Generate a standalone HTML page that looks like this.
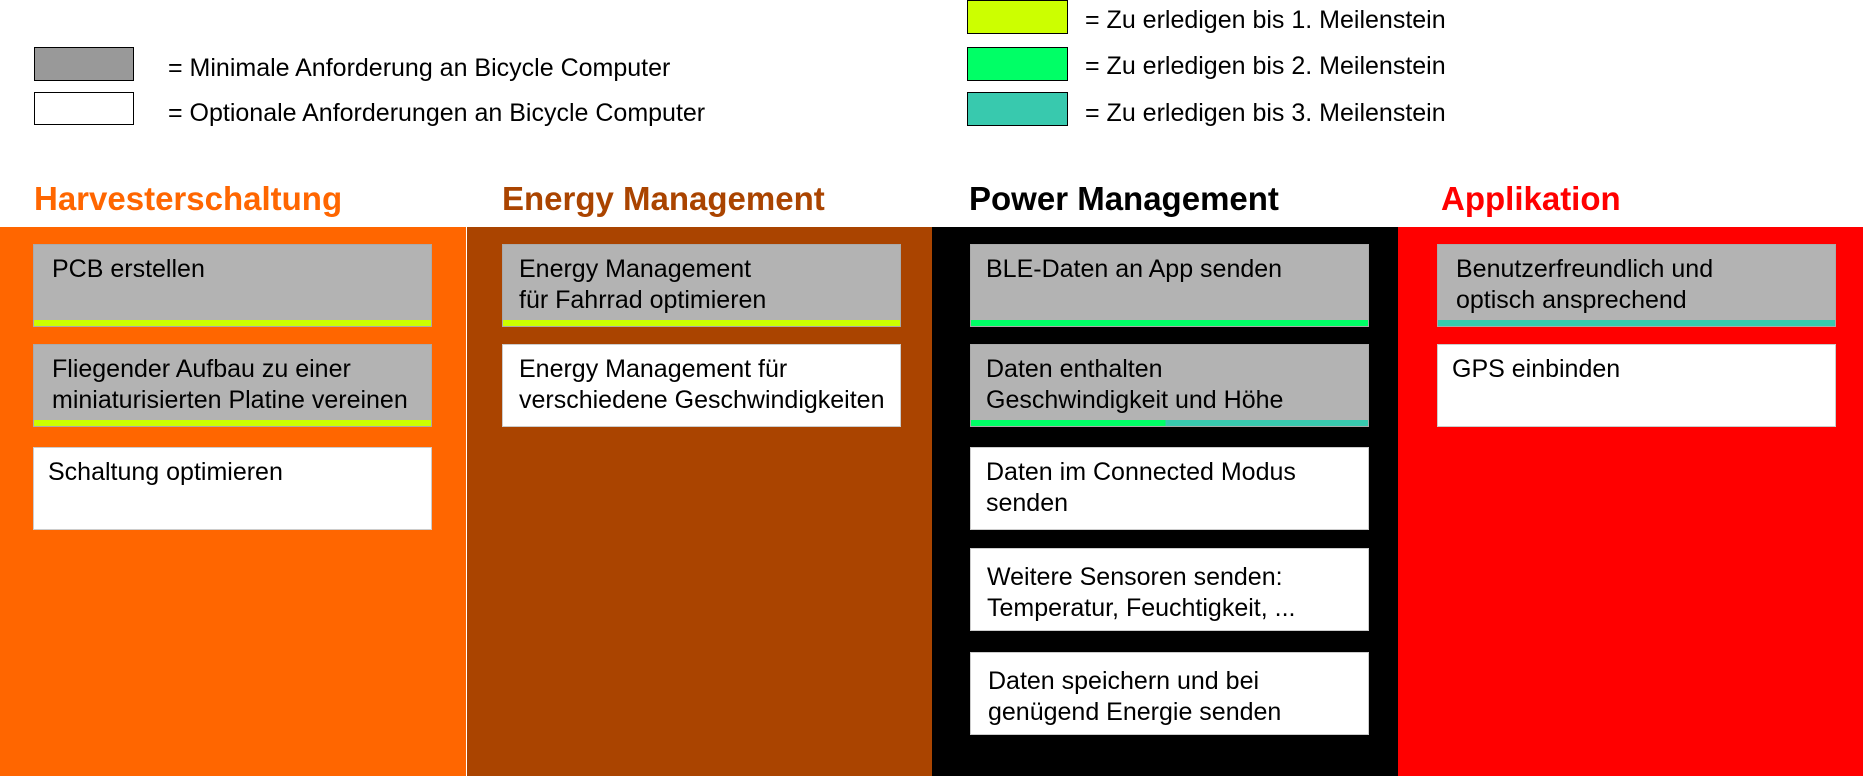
<!DOCTYPE html>
<html><head><meta charset="utf-8"><style>
*{margin:0;padding:0;box-sizing:border-box}
body{width:1863px;height:776px;background:#fff;position:relative;overflow:hidden;font-family:"Liberation Sans",sans-serif}
.a{position:absolute}
.lg{position:absolute;border:1.5px solid #000}
.lt{position:absolute;font-size:25px;color:#000;line-height:28px;white-space:nowrap}
.h{position:absolute;top:180px;font-size:33px;font-weight:bold;white-space:nowrap}
.col{position:absolute;top:227px;height:549px;width:466px}
.b{position:absolute;height:83px;width:399px;font-size:25px;line-height:31px;padding:9px 0 0 18px;color:#000;border:1px solid #ccc;white-space:nowrap}
.g{background:#b3b3b3;border-color:#aaa}
.w{background:#fff}
.bar{position:absolute;left:0;bottom:0;height:6px;width:100%}
</style></head><body>
<div class="lg" style="left:34px;top:47px;width:100px;height:34px;background:#999"></div>
<div class="lg" style="left:34px;top:92px;width:100px;height:33px;background:#fff"></div>
<div class="lt" style="left:168px;top:54px">= Minimale Anforderung an Bicycle Computer</div>
<div class="lt" style="left:168px;top:99px">= Optionale Anforderungen an Bicycle Computer</div>
<div class="lg" style="left:967px;top:0px;width:101px;height:34px;background:#ccff00"></div>
<div class="lg" style="left:967px;top:47px;width:101px;height:34px;background:#00ff66"></div>
<div class="lg" style="left:967px;top:92px;width:101px;height:34px;background:#38c9ae"></div>
<div class="lt" style="left:1085px;top:6px">= Zu erledigen bis 1. Meilenstein</div>
<div class="lt" style="left:1085px;top:52px">= Zu erledigen bis 2. Meilenstein</div>
<div class="lt" style="left:1085px;top:99px">= Zu erledigen bis 3. Meilenstein</div>

<div class="h" style="left:34px;color:#ff6600">Harvesterschaltung</div>
<div class="h" style="left:502px;color:#aa4400">Energy Management</div>
<div class="h" style="left:969px;color:#000">Power Management</div>
<div class="h" style="left:1441px;color:#ff0000">Applikation</div>

<div class="col" style="left:0;background:#ff6600"></div>
<div class="col" style="left:467px;background:#aa4400"></div>
<div class="col" style="left:932px;width:466px;background:#000"></div>
<div class="col" style="left:1398px;width:465px;background:#ff0000"></div>

<div class="b g" style="left:33px;top:244px">PCB erstellen<div class="bar" style="background:#ccff00"></div></div>
<div class="b g" style="left:33px;top:344px">Fliegender Aufbau zu einer<br>miniaturisierten Platine vereinen<div class="bar" style="background:#ccff00"></div></div>
<div class="b w" style="left:33px;top:447px;padding-left:14px">Schaltung optimieren</div>

<div class="b g" style="left:502px;top:244px;padding-left:16px">Energy Management<br>für Fahrrad optimieren<div class="bar" style="background:#ccff00"></div></div>
<div class="b w" style="left:502px;top:344px;padding-left:16px">Energy Management für<br>verschiedene Geschwindigkeiten</div>

<div class="b g" style="left:970px;top:244px;padding-left:15px">BLE-Daten an App senden<div class="bar" style="background:#00ff66"></div></div>
<div class="b g" style="left:970px;top:344px;padding-left:15px">Daten enthalten<br>Geschwindigkeit und Höhe<div class="bar" style="background:linear-gradient(90deg,#00ff66 0,#00ff66 49%,#38c9ae 49%)"></div></div>
<div class="b w" style="left:970px;top:447px;padding-left:15px">Daten im Connected Modus<br>senden</div>
<div class="b w" style="left:970px;top:548px;padding-left:16px;padding-top:13px">Weitere Sensoren senden:<br>Temperatur, Feuchtigkeit, ...</div>
<div class="b w" style="left:970px;top:652px;padding-left:17px;padding-top:13px">Daten speichern und bei<br>genügend Energie senden</div>

<div class="b g" style="left:1437px;top:244px;padding-left:18px">Benutzerfreundlich und<br>optisch ansprechend<div class="bar" style="background:#38c9ae"></div></div>
<div class="b w" style="left:1437px;top:344px;padding-left:14px">GPS einbinden</div>
</body></html>
